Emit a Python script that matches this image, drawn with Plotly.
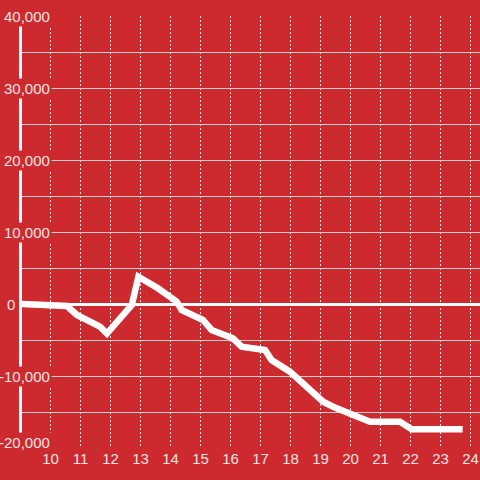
import plotly.graph_objects as go

# Data
x_vals = [9.0, 10.55, 10.88, 11.65, 11.88, 12.71, 12.93, 13.58, 14.21, 14.37,
          15.08, 15.37, 16.08, 16.37, 17.15, 17.37, 17.98, 19.09, 19.42, 20.65,
          21.65, 22.04, 23.74]
y_vals = [0, -280, -1530, -3150, -4100, -140, 3790, 2180, 320, -830,
          -2220, -3610, -4770, -5930, -6390, -7780, -9400, -13570, -14260, -16350,
          -16350, -17400, -17400]

x_ticks = list(range(10, 25))
x_tick_labels = [str(v) for v in x_ticks]
y_label_vals = [40000, 30000, 20000, 10000, 0, -10000, -20000]
y_label_text = ["40,000", "30,000", "20,000", "10,000", "0", "-10,000", "-20,000"]

BG = "#cc2a2e"
TXT = "#f3e3e3"
FONT = "Liberation Sans, Arial, sans-serif"

fig = go.Figure()
fig.add_trace(go.Scatter(
    x=x_vals, y=y_vals, mode="lines",
    line=dict(color="#ffffff", width=6.5),
    hoverinfo="skip",
))

W, L = 480, 22
plot_w = W - L
y_min = min(y_label_vals)
annotations = []
for v, t in zip(y_label_vals, y_label_text):
    right_px = 17 if v == 0 else 52
    annotations.append(dict(
        x=(right_px - L) / plot_w, xref="paper", xanchor="right",
        y=v, yref="y", yanchor="middle", yshift=6 if v == y_min else 0,
        text=t, showarrow=False,
        font=dict(family=FONT, size=15, color=TXT),
        bgcolor=BG, borderpad=1,
    ))

fig.update_layout(
    width=480, height=480,
    margin=dict(l=L, r=0, t=16, b=32),
    paper_bgcolor=BG, plot_bgcolor=BG,
    showlegend=False,
    font=dict(family=FONT, size=15, color=TXT),
    annotations=annotations,
    xaxis=dict(
        range=[9.05, 24.317],
        tickmode="array", tickvals=x_ticks, ticktext=x_tick_labels,
        showgrid=True, gridcolor="#dddddd", gridwidth=1, griddash="2px,2px",
        showline=False, zeroline=False, ticks="",
        tickfont=dict(family=FONT, size=15, color=TXT),
    ),
    yaxis=dict(
        range=[-20000, 40000], dtick=5000, tick0=0,
        showticklabels=False,
        showgrid=True, gridcolor="#cfcfcf", gridwidth=1,
        zeroline=True, zerolinecolor="#ffffff", zerolinewidth=3,
        showline=True, linecolor="#ffffff", linewidth=3, ticks="",
    ),
)

fig.write_html(
    "out.html",
    config={"displayModeBar": False},
    post_script="document.body.style.margin='0';document.body.style.background='%s';" % BG,
)
